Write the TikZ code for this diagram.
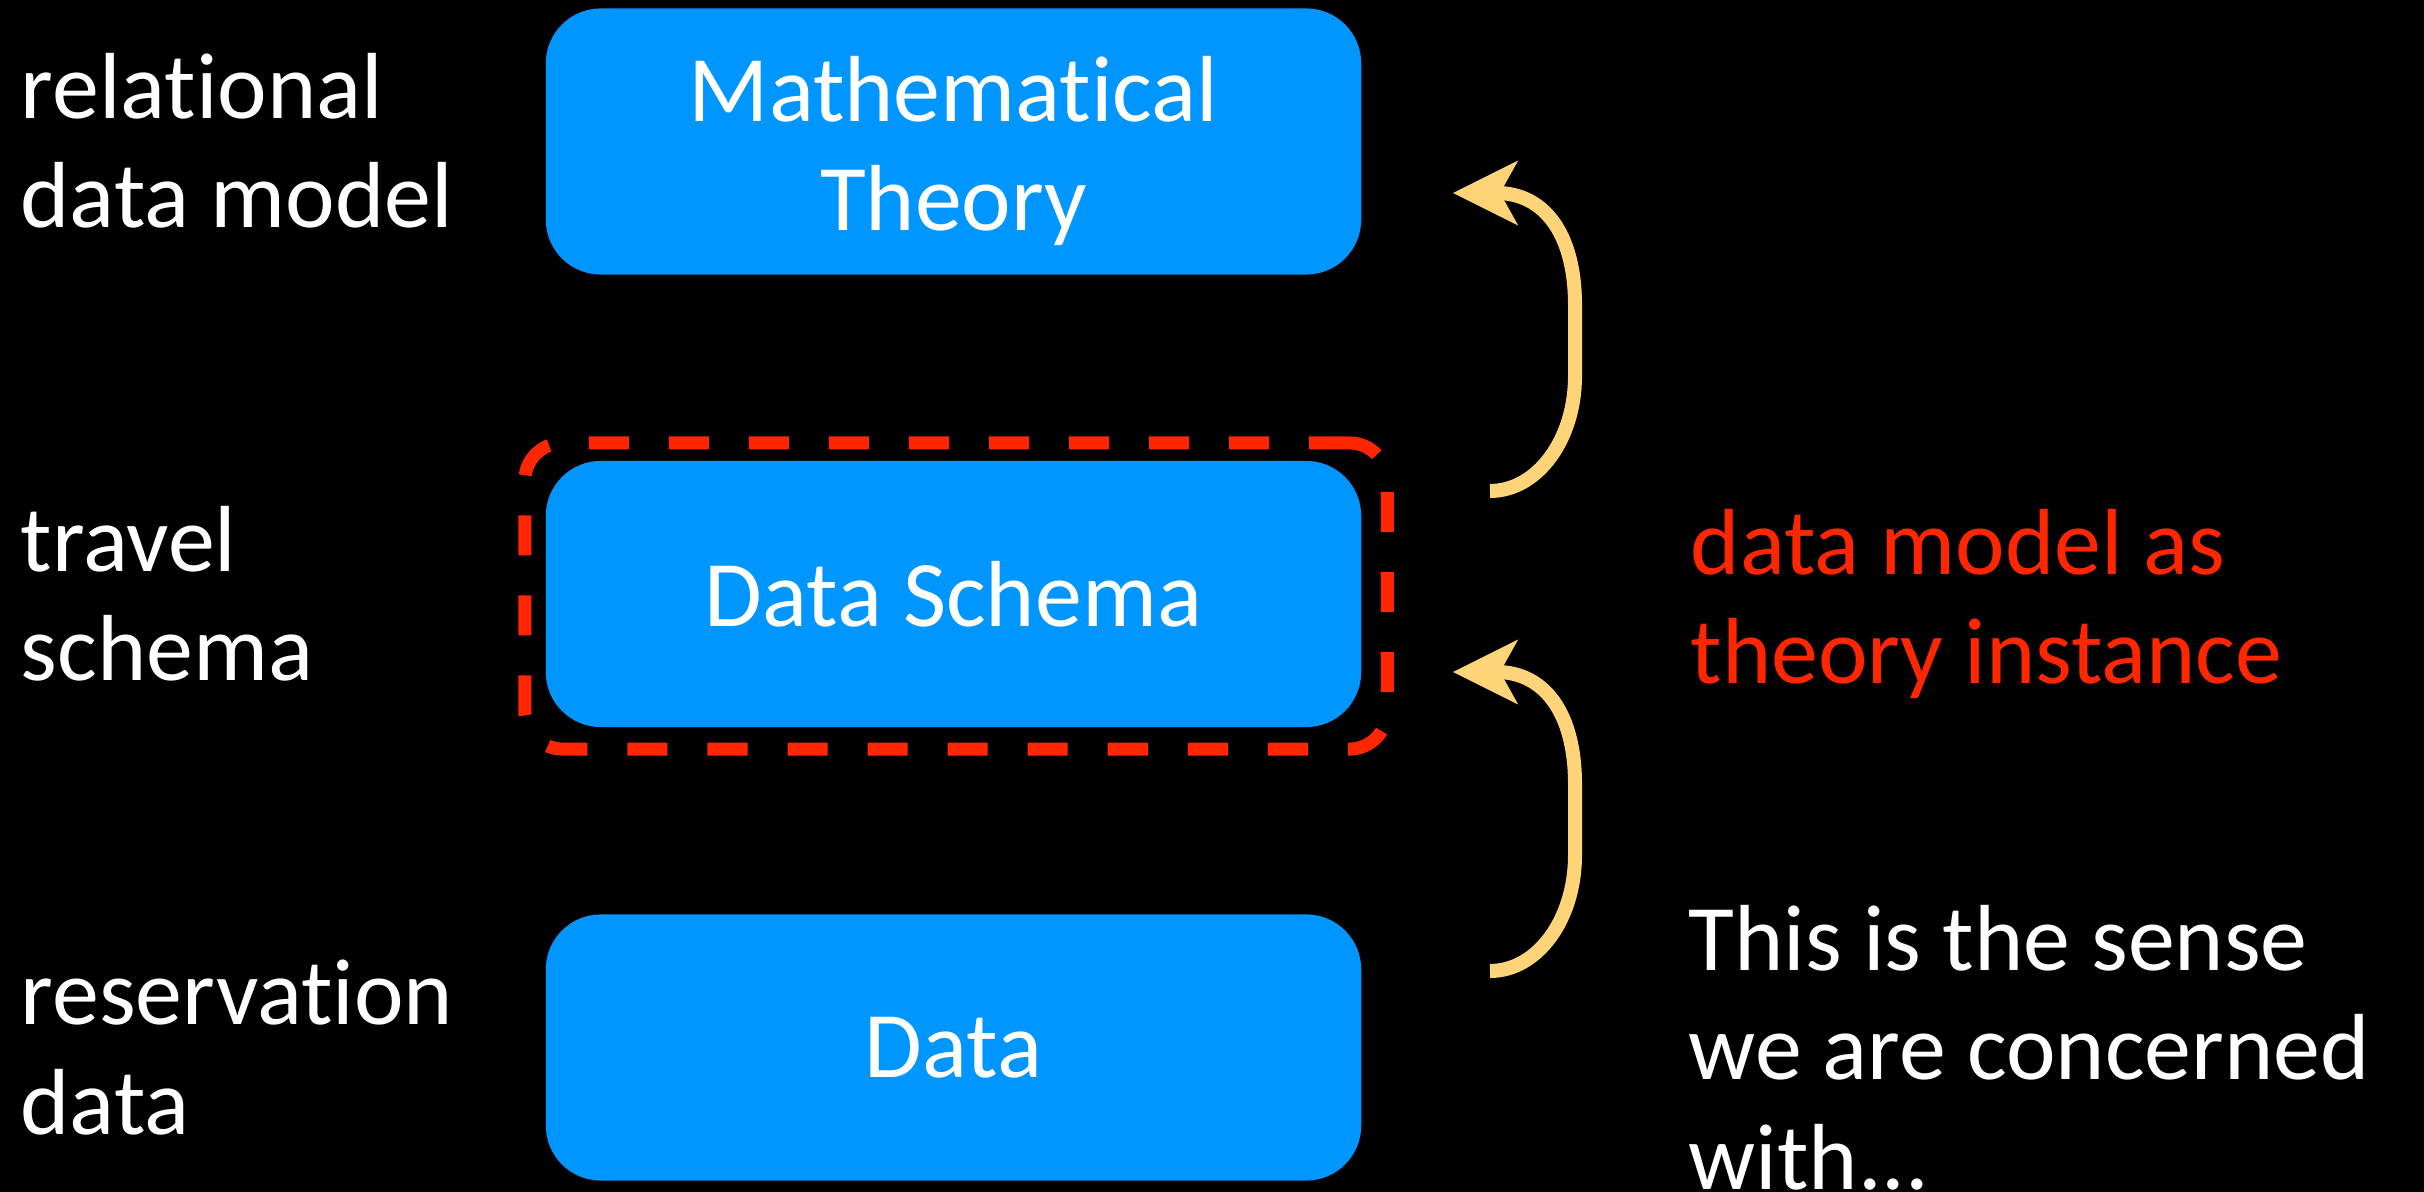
\documentclass[tikz,border=0pt]{standalone}
\usepackage{fontspec}
\setmainfont[Ligatures=NoCommon]{Carlito}
\usetikzlibrary{arrows.meta}
\definecolor{boxblue}{HTML}{0096FF}
\definecolor{hlred}{HTML}{FF2600}
\definecolor{arrowyel}{HTML}{FFD479}
\newcommand\bodyfont{\fontsize{26.7}{31}\selectfont}
\tikzset{
  blockbox/.style={draw=none, fill=boxblue, rounded corners=0.55cm,
    minimum width=8.15cm, minimum height=2.66cm, text=white,
    font=\bodyfont, align=center, inner sep=0pt},
  sidelabel/.style={text=white, font=\bodyfont, align=left,
    anchor=base west, inner sep=0pt},
  redlabel/.style={sidelabel, text=hlred},
  hilite/.style={draw=hlred, line width=0.13cm,
    dash pattern=on 0.40cm off 0.40cm, rounded corners=0.38cm,
    minimum width=8.62cm, minimum height=3.06cm, inner sep=0pt},
  bendarrow/.style={draw=arrowyel, line width=0.14cm,
    -{Stealth[length=0.64cm, width=0.63cm, inset=0.17cm]}},
}
\begin{document}
\begin{tikzpicture}[x=0.01cm, y=-0.01cm]
  \fill[black] (0,0) rectangle (2424,1192);
  \useasboundingbox (0,0) rectangle (2424,1192);

  % boxes
  \node[blockbox] (mt) at (953.5,141.5) {\rule{0pt}{0.84cm}Mathematical\\Theory};
  \node[hilite] (hl) at (956,596) {};
  \node[blockbox] (ds) at (953.5,594) {Data Schema};
  \node[blockbox] (dt) at (953.5,1047.5) {Data};

  % left labels (anchored at the baseline of their last line)
  \node[sidelabel] (l1) at (20,228) {relational\\data model};
  \node[sidelabel] (l2) at (20,681) {travel\\schema};
  \node[sidelabel] (l3) at (20,1134) {reservation\\data};

  % right labels
  \node[redlabel] (r1) at (1690,684) {data model as\\theory instance};
  \node[sidelabel] (r2) at (1688,1189) {This is the sense\\we are concerned\\with...};

  % arrows
  \coordinate (a1s) at (1490,491);
  \coordinate (a1e) at (1453,193);
  \coordinate (a2s) at (1490,971);
  \coordinate (a2e) at (1453,672);
  \draw[bendarrow] (a1s) .. controls (1537,491) and (1575,440) .. (1575,376)
     -- (1575,305) .. controls (1575,235) and (1545,193) .. (a1e);
  \draw[bendarrow] (a2s) .. controls (1537,971) and (1575,920) .. (1575,855)
     -- (1575,784) .. controls (1575,714) and (1545,672) .. (a2e);
\end{tikzpicture}
\end{document}
